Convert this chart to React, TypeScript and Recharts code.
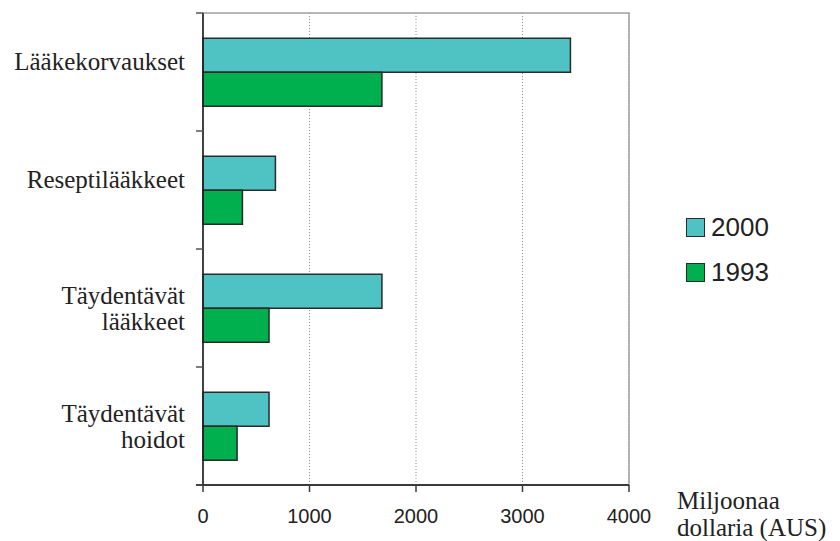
import { Bar, BarChart, CartesianGrid, Legend, ReferenceArea, XAxis, YAxis } from "recharts";

// Lääkemenot, Australia: 1993 vs 2000 (milj. AUD)
const CATEGORIES = [
  "Lääkekorvaukset",
  "Reseptilääkkeet",
  "Täydentävät\nlääkkeet",
  "Täydentävät\nhoidot",
];
const SERIES_NAMES = ["2000", "1993"];
const VALUES_2000 = [3450, 680, 1680, 620];
const VALUES_1993 = [1680, 370, 620, 320];
const X_TICKS = [0, 1000, 2000, 3000, 4000];
const UNIT_LINES = ["Miljoonaa", "dollaria (AUS)"];

const TEAL = "#4fc3c3";
const GREEN = "#00b04f";
const EDGE = "#2a2a2a";
const SERIF = "'Liberation Serif', 'Times New Roman', serif";
const SANS = "'Liberation Sans', Arial, sans-serif";

const rows = CATEGORIES.map((name, i) => ({
  name,
  v2000: VALUES_2000[i],
  v1993: VALUES_1993[i],
}));

// kategorian nimi (voi olla 2 riviä) + väliviivat kaistojen rajoille
function CategoryTick(props: any) {
  const { x, y, payload, index } = props;
  const lines = String(payload.value).split("\n");
  const half = payload.offset ?? 0;
  const first = y - 2 - (lines.length - 1) * 2;
  return (
    <g>
      <line x1={x + 11} x2={x + 18} y1={y - half} y2={y - half} stroke="#555" strokeWidth={1.5} />
      {index === CATEGORIES.length - 1 && (
        <line x1={x + 11} x2={x + 18} y1={y + half} y2={y + half} stroke="#444" strokeWidth={2} />
      )}
      <text textAnchor="end" fill="#222" style={{ fontFamily: SERIF, fontSize: 25 }}>
        {lines.map((t, i) => (
          <tspan key={i} x={x} y={first + i * 26}>
            {t}
          </tspan>
        ))}
      </text>
    </g>
  );
}

function UnitLabel(props: any) {
  const vb = props.viewBox ?? { x: 0, y: 0, width: 0 };
  const lx = vb.x + vb.width + 48;
  return (
    <text fill="#222" style={{ fontFamily: SERIF, fontSize: 25 }}>
      {UNIT_LINES.map((t, i) => (
        <tspan key={i} x={lx} y={vb.y + 24 + i * 27}>
          {t}
        </tspan>
      ))}
    </text>
  );
}

function LegendBox({ payload }: { payload?: Array<{ value: string; color: string }> }) {
  if (!payload) return null;
  const items = [...payload].sort(
    (a, b) => SERIES_NAMES.indexOf(String(a.value)) - SERIES_NAMES.indexOf(String(b.value)),
  );
  return (
    <div>
      {items.map((p) => (
        <div
          key={p.value}
          style={{ display: "flex", alignItems: "center", height: 45, fontFamily: SANS, fontSize: 26, color: "#222" }}
        >
          <span
            style={{
              width: 17,
              height: 17,
              background: p.color,
              border: `1.5px solid ${EDGE}`,
              marginRight: 6,
              display: "inline-block",
            }}
          />
          {p.value}
        </div>
      ))}
    </div>
  );
}

export default function App() {
  return (
    <div style={{ width: 840, height: 541, background: "#fff" }}>
      <style>{"body{margin:0}"}</style>
      <BarChart
        layout="vertical"
        width={840}
        height={541}
        data={rows}
        margin={{ top: 13, right: 211, bottom: 0, left: 0 }}
        barCategoryGap="21.5%"
        barGap={0}
      >
        <CartesianGrid horizontal={false} stroke="#8c8c8c" strokeDasharray="1 2" />
        <ReferenceArea x1={0} x2={4000} fill="none" stroke="#a0a0a0" strokeWidth={1.5} ifOverflow="visible" />
        <XAxis
          type="number"
          domain={[0, 4000]}
          ticks={X_TICKS}
          height={56}
          tickSize={7}
          tickMargin={17}
          axisLine={{ stroke: "#3a3a3a", strokeWidth: 2 }}
          tickLine={{ stroke: "#3a3a3a", strokeWidth: 1.5 }}
          tick={{ fill: "#222", fontSize: 20, fontFamily: SANS }}
          label={<UnitLabel />}
        />
        <YAxis
          type="category"
          dataKey="name"
          width={203}
          interval={0}
          tickSize={7}
          tickMargin={11}
          tickLine={false}
          axisLine={{ stroke: "#1e1e1e", strokeWidth: 1.5 }}
          tick={<CategoryTick />}
        />
        <Legend
          layout="vertical"
          align="center"
          verticalAlign="middle"
          content={<LegendBox />}
          wrapperStyle={{ left: 686, top: 205, width: 130 }}
        />
        <Bar dataKey="v2000" name={SERIES_NAMES[0]} fill={TEAL} stroke={EDGE} strokeWidth={1.5} isAnimationActive={false} />
        <Bar dataKey="v1993" name={SERIES_NAMES[1]} fill={GREEN} stroke={EDGE} strokeWidth={1.5} isAnimationActive={false} />
      </BarChart>
    </div>
  );
}
